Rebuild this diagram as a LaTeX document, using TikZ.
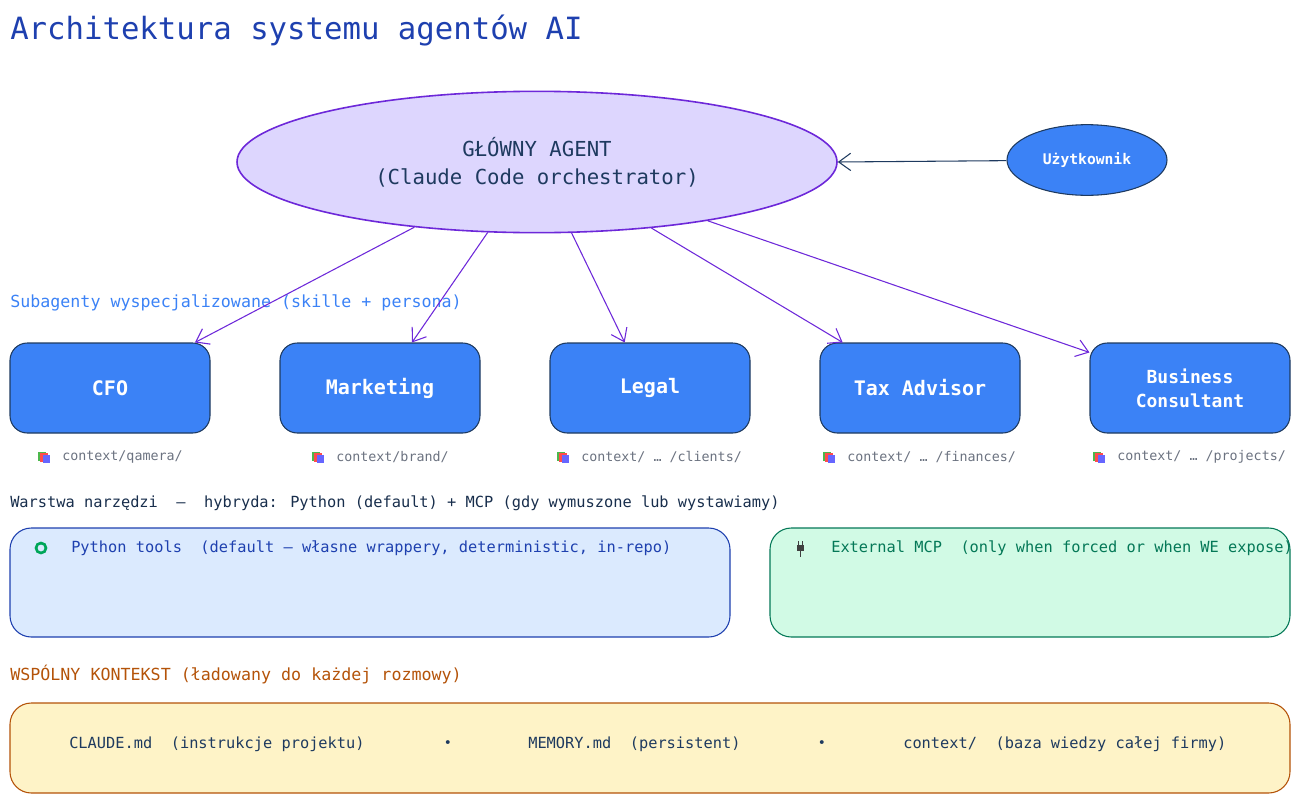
\documentclass[tikz,border=0pt]{standalone}
\usepackage{fontspec}
\setmainfont{DejaVu Sans Mono}
\usetikzlibrary{arrows.meta,shapes.geometric}
\definecolor{titleblue}{HTML}{1E40AF}
\definecolor{agentfill}{HTML}{DDD6FE}
\definecolor{agentline}{HTML}{6D28D9}
\definecolor{subfill}{HTML}{3B82F6}
\definecolor{subline}{HTML}{1E3A5F}
\definecolor{pyfill}{HTML}{DBEAFE}
\definecolor{mcpfill}{HTML}{D1FAE5}
\definecolor{mcpline}{HTML}{047857}
\definecolor{ctxfill}{HTML}{FEF3C7}
\definecolor{ctxline}{HTML}{B45309}
\definecolor{grey}{HTML}{6B7280}
\tikzset{
  sub/.style={draw=subline,fill=subfill,thick,rounded corners=13pt,minimum width=150pt,
    minimum height=67.5pt,text=white,font=\fontsize{15}{18}\selectfont\bfseries,align=center},
  head/.style={anchor=west,inner sep=0pt},
  ctx/.style={anchor=west,inner sep=0pt,text=grey,font=\fontsize{10}{12}\selectfont},
  link/.style={agentline,thick,-{Straight Barb[length=9pt,width=13pt]}}
}
\newcommand{\bookicon}[1]{%
  \fill[green!60!black!70] ($(#1)+(-6,-5)$) rectangle ++(8,9);
  \fill[red!70] ($(#1)+(-4,-4)$) rectangle ++(8,9);
  \fill[blue!60] ($(#1)+(-1,-2)$) rectangle ++(7,8);}
\usetikzlibrary{calc}
\begin{document}
\begin{tikzpicture}[x=0.75pt,y=-0.75pt]
	\useasboundingbox (0,0) rectangle (1300,803);
	\node[head,text=titleblue,font=\fontsize{23}{26}\selectfont] (title) at (10,31) {Architektura systemu agentów AI};

	% agents
	\node[ellipse,draw=agentline,fill=agentfill,very thick,minimum width=450pt,minimum height=106pt,
	  align=center,text=subline,font=\fontsize{15.5}{21}\selectfont] (main) at (537,162)
	  {GŁÓWNY AGENT\\(Claude Code orchestrator)};
	\node[ellipse,draw=subline,fill=subfill,thick,minimum width=120pt,minimum height=53pt,text=white,
	  font=\fontsize{11}{13}\selectfont\bfseries] (user) at (1087,160) {Użytkownik};
	\draw[subline,thick,-{Straight Barb[length=9pt,width=13pt]}] (user) -- (main.east);

	\node[head,text=subfill,font=\fontsize{12.5}{15}\selectfont] (subhead) at (10,303) {Subagenty wyspecjalizowane (skille + persona)};
	\node[sub] (cfo) at (110,388) {CFO};
	\node[sub] (mkt) at (380,388) {Marketing};
	\node[sub] (legal) at (650,388) {Legal};
	\node[sub] (tax) at (920,388) {Tax Advisor};
	\node[sub,font=\fontsize{13.5}{18}\selectfont\bfseries] (biz) at (1190,388) {Business\\Consultant};

	\draw[link] (main.-152) -- ([xshift=63.75pt]cfo.north);
	\draw[link] (main.-125) -- ([xshift=24pt]mkt.north);
	\draw[link] (main.-64) -- ([xshift=-19pt]legal.north);
	\draw[link] (main.-30) -- ([xshift=-58pt]tax.north);
	\draw[link] (main.-19) -- ([yshift=-7.5pt]biz.north west);

	\foreach \ix/\txt in {44/context\slash qamera\slash,318/context\slash brand\slash,
	  563/context\slash\ …\ \slash clients\slash,829/context\slash\ …\ \slash finances\slash,
	  1099/context\slash\ …\ \slash projects\slash}{
		\bookicon{\ix,457}
		\node[ctx] at (\ix+18,457) {\txt};
	}

	% tools
	\node[head,text=subline!80!black,font=\fontsize{11.5}{14}\selectfont] (toolhead) at (10,503)
	  {Warstwa narzędzi \ — \ hybryda: Python (default) + MCP (gdy wymuszone lub wystawiamy)};
	\draw[titleblue,thick,fill=pyfill,rounded corners=16pt] (10,528) rectangle (730,637);
	\draw[mcpline,thick,fill=mcpfill,rounded corners=16pt] (770,528) rectangle (1290,637);
	\draw[teal!70!green,line width=2pt] (41,548) circle (5);
	\node[head,text=titleblue,font=\fontsize{11.5}{14}\selectfont] (py) at (71,548)
	  {Python tools \ (default — własne wrappery, deterministic, in-repo)};
	\fill[black!75] (797,545) rectangle (804,551);
	\draw[black!75,thick] (800.5,551) -- (800.5,557) (798.5,541) -- (798.5,545) (802.5,541) -- (802.5,545);
	\node[head,text=mcpline,font=\fontsize{11.5}{14}\selectfont] (mcp) at (831,548)
	  {External MCP \ (only when forced or when WE expose)};

	% shared context
	\node[head,text=ctxline,font=\fontsize{12.5}{15}\selectfont] (ctxhead) at (10,674)
	  {WSPÓLNY KONTEKST (ładowany do każdej rozmowy)};
	\draw[ctxline,thick,fill=ctxfill,rounded corners=16pt] (10,703) rectangle (1290,793);
	\node[head,text=subline,font=\fontsize{11.5}{14}\selectfont] (claude) at (69,744) {CLAUDE.md \ (instrukcje projektu)};
	\node[text=subline] (b1) at (448,744) {•};
	\node[head,text=subline,font=\fontsize{11.5}{14}\selectfont] (memory) at (528,744) {MEMORY.md \ (persistent)};
	\node[text=subline] (b2) at (822,744) {•};
	\node[head,text=subline,font=\fontsize{11.5}{14}\selectfont] (context) at (903,744) {context/ \ (baza wiedzy całej firmy)};
\end{tikzpicture}
\end{document}
